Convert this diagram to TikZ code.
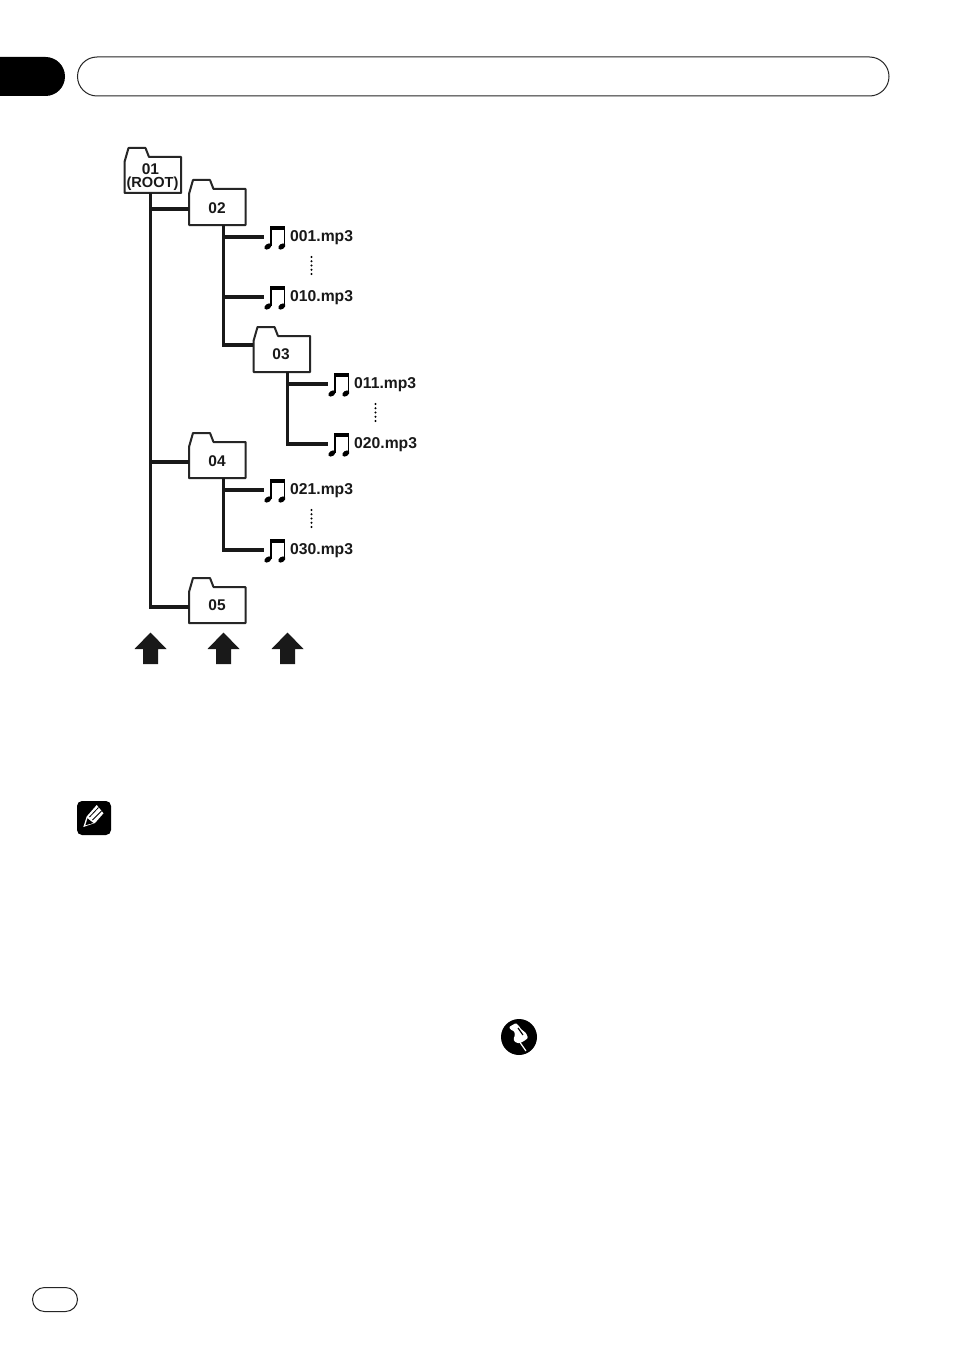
\documentclass[tikz,border=0pt]{standalone}
\usepackage{fontspec}
\setmainfont{Liberation Sans}
\tikzset{
  x=1pt,y=-1pt,
  conn/.style={line width=3.2pt,line cap=butt,line join=miter,black!90},
  foldershape/.style={line width=2pt,black!85,fill=white,line join=round},
  folderbody/.style={minimum width=57pt,minimum height=36pt,inner sep=0pt,outer sep=0pt},
  lbl/.style={font=\bfseries\fontsize{15.7}{16}\selectfont,inner sep=0pt,anchor=base west,black!90},
  foldertxt/.style={font=\bfseries\fontsize{15.5}{16}\selectfont,inner sep=0pt,black!90},
  noteanchor/.style={minimum width=24pt,minimum height=25pt,inner sep=0pt,outer sep=0pt},
  dotmark/.style={circle,fill=black,inner sep=0pt,minimum size=2.3pt},
  uparrow/.style={fill=black!90,draw=none},
  outline/.style={draw=black!85,line width=1pt,fill=white}
}
% #1 name, #2 left, #3 bottom
\newcommand\folderat[3]{%
  \begin{scope}[shift={(#2,#3)}]
    \draw[foldershape] (0,0) -- (0,-31) -- (4,-45) -- (21,-45) -- (24.5,-36) -- (56.5,-36) -- (56.5,0) -- cycle;
  \end{scope}
  \node[folderbody] (#1) at ({#2+28.25},{#3-18}) {};
  \coordinate (#1in) at ([yshift=-2pt]#1.west);
}
% #1 name, #2 x of left edge, #3 y of centre, #4 label
\newcommand\notefile[4]{%
  \node[noteanchor] (#1) at ({#2+12},#3) {};
  \begin{scope}[shift={(#2,#3)}]
    \fill[black] (7,-11.5) rectangle (21.5,-7.5);
    \draw[black,line width=1.5pt] (7.3,-11) -- (7.3,8.5);
    \draw[black,line width=1.5pt] (21.2,-11) -- (21.2,8.5);
    \fill[black,rotate around={35:(4.4,9.5)}] (4.4,9.5) ellipse (3.9 and 2.6);
    \fill[black,rotate around={35:(18.3,9.5)}] (18.3,9.5) ellipse (3.9 and 2.6);
  \end{scope}
  \node[lbl] (#1t) at ({#2+26.5},{#3+4}) {#4};
}
% #1 name, #2 x, #3 y top
\newcommand\vdotsat[3]{%
  \foreach \k in {0,1,2,3,4}{\node[dotmark] (#1\k) at (#2,{#3+\k*4.25}) {};}
}
\newcommand\uparrowat[2]{%
  \fill[uparrow] (#1,632.5) -- ({#1+16},649) -- ({#1+7.5},649) -- ({#1+7.5},664) -- ({#1-7.5},664) -- ({#1-7.5},649) -- ({#1-16},649) -- cycle;
  \coordinate (#2) at (#1,648);
}
\begin{document}
\begin{tikzpicture}
\useasboundingbox (0,0) rectangle (954,1351);
\fill[white] (0,0) rectangle (954,1351);

% header
\fill[black] (0,57) -- (45.5,57) arc[start angle=90,end angle=-90,radius=19.5pt] -- (0,96) -- cycle;
\draw[outline] (97,57) -- (869.5,57) arc[start angle=90,end angle=-90,radius=19.5pt] -- (97,96) arc[start angle=270,end angle=90,radius=19.5pt] -- cycle;
% page number pill
\draw[outline] (44.5,1287.5) -- (65.5,1287.5) arc[start angle=90,end angle=-90,radius=12pt] -- (44.5,1311.5) arc[start angle=270,end angle=90,radius=12pt] -- cycle;

% folders
\folderat{fa}{124.5}{193}
\folderat{fb}{189}{225}
\folderat{fc}{253.5}{372}
\folderat{fd}{189}{478}
\folderat{fe}{189}{623}
\node[foldertxt] at (150.5,169) {01};
\node[foldertxt,font=\bfseries\fontsize{14.6}{16}\selectfont] at (152.5,183.5) {(ROOT)};
\node[foldertxt] at (217,208) {02};
\node[foldertxt] at (281,354) {03};
\node[foldertxt] at (217,461) {04};
\node[foldertxt] at (217,605.5) {05};

% music files
\notefile{m1}{263.5}{237}{001.mp3}
\notefile{m2}{263.5}{297}{010.mp3}
\notefile{m3}{327.5}{384}{011.mp3}
\notefile{m4}{327.5}{444}{020.mp3}
\notefile{m5}{263.5}{490}{021.mp3}
\notefile{m6}{263.5}{550}{030.mp3}

% connectors
\coordinate (ra) at (150.5,193);
\draw[conn] (ra) |- (fein);
\draw[conn] (ra |- fbin) -- (fbin);
\draw[conn] (ra |- fdin) -- (fdin);
\coordinate (rb) at (223.5,225);
\draw[conn] (rb) |- ([yshift=9pt]fc.west);
\draw[conn] (rb |- m1.west) -- (m1.west);
\draw[conn] (rb |- m2.west) -- (m2.west);
\coordinate (rc) at (287.5,372);
\draw[conn] (rc) |- (m4.west);
\draw[conn] (rc |- m3.west) -- (m3.west);
\coordinate (rd) at (223.5,478);
\draw[conn] (rd) |- (m6.west);
\draw[conn] (rd |- m5.west) -- (m5.west);

% vertical dots
\vdotsat{da}{311.5}{257}
\vdotsat{db}{375.5}{404}
\vdotsat{dc}{311.5}{510}

% up arrows
\uparrowat{150.5}{ua}
\uparrowat{223.5}{ub}
\uparrowat{287.5}{uc}

% note (pencil) icon
\fill[black,rounded corners=5pt] (77,801) rectangle (111,835);
\fill[white] (83.3,827) -- (86.7,816.5) -- (96.7,805) -- (103.5,813.3) -- (95,823) -- cycle;
\fill[black] (85.4,825.2) -- (87.6,818.2) -- (89.5,820) -- (91.5,821.5) -- (93.5,823) -- cycle;
\draw[black,line width=.8pt] (89.5,817) -- (98.5,807.5);
\draw[black,line width=.8pt] (92.5,820) -- (101.5,811);

% important (pin) icon
\fill[black] (519,1037) circle (18pt);
\fill[white,rounded corners=1pt] (509,1027) -- (516,1023) -- (519,1026) -- (521,1029) -- (526,1033) -- (528,1038) -- (524,1041) -- (520,1043) -- (517,1043) -- (514,1041) -- (513.5,1039) -- (515,1035) -- (514,1031) -- (511,1030) -- cycle;
\draw[white,line width=1.2pt] (519,1041) -- (526,1051);
\draw[black,line width=1.2pt] (518,1028) -- (523,1035);
\end{tikzpicture}
\end{document}
